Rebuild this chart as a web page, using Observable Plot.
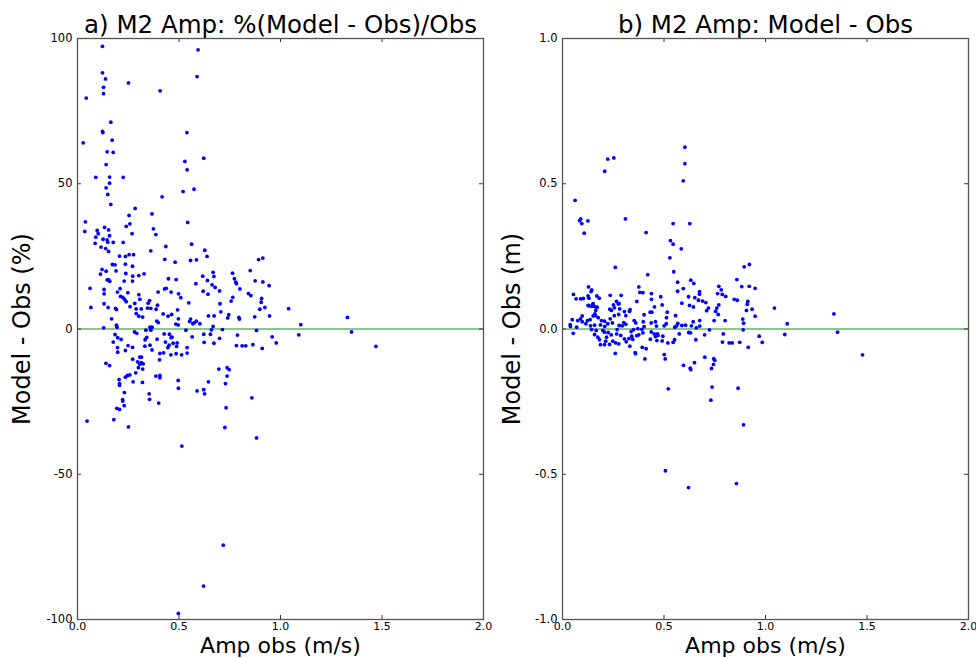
<!DOCTYPE html>
<html><head><meta charset="utf-8">
<script src="https://cdn.jsdelivr.net/npm/d3@7"></script>
<script src="https://cdn.jsdelivr.net/npm/@observablehq/plot@0.6"></script>
<style>
body{margin:0;background:#fff;}
#wrap{position:relative;width:976px;height:658px;}
#wrap svg{position:absolute;top:0;overflow:visible;}
</style></head><body><div id="wrap"></div>
<script>
// Panel a: amplitude obs (m/s) vs %(Model - Obs)/Obs
const ampObsA = [0.123,0.594,0.123,0.138,0.251,0.589,0.128,0.128,0.407,0.043,0.164,0.123,0.125,0.539,0.171,0.028,0.146,0.176,0.622,0.529,0.141,0.540,0.090,0.158,0.225,0.158,0.141,0.520,0.574,0.149,0.417,0.164,0.284,0.254,0.367,0.039,0.543,0.258,0.240,0.133,0.374,
0.036,0.097,0.102,0.153,0.269,0.386,0.090,0.158,0.126,0.146,0.149,0.176,0.225,0.087,0.116,0.139,0.153,0.361,0.435,0.562,0.627,0.207,0.236,0.254,0.276,0.638,0.430,0.481,0.557,0.586,0.892,0.913,0.172,0.185,0.236,0.271,0.121,0.141,0.113,0.190,0.238,0.272,0.302,0.328,0.668,0.764,0.851,0.154,0.159,0.146,0.230,0.271,0.448,0.486,0.617,0.672,0.773,0.780,0.783,0.640,0.875,0.913,0.663,0.583,0.678,0.800,0.944,0.062,0.131,0.210,0.429,0.437,0.197,0.397,0.498,0.248,0.619,0.700,0.131,0.643,0.461,0.212,0.223,0.232,0.302,0.509,0.765,0.842,0.854,0.907,0.131,0.240,0.282,0.307,0.355,0.348,0.259,0.314,0.289,0.345,0.361,0.387,0.394,0.548,0.702,0.757,0.905,0.898,0.923,0.066,0.151,0.187,0.192,0.289,0.302,0.321,0.422,0.446,0.464,0.493,0.706,0.745,0.740,0.795,0.798,0.645,0.673,0.873,0.946,1.04,1.10,1.09,1.33,1.35,1.47,
0.168,0.497,0.391,0.398,0.557,0.552,0.576,0.586,0.603,0.568,0.484,0.496,0.192,0.195,0.129,0.357,0.367,0.361,0.337,0.534,0.668,0.660,0.714,0.882,0.281,0.292,0.185,0.198,0.215,0.341,0.333,0.392,0.427,0.453,0.461,0.466,0.622,0.655,0.565,0.700,0.788,0.959,0.979,0.176,0.197,0.249,0.271,0.332,0.357,0.433,0.451,0.471,0.488,0.445,0.491,0.540,0.624,0.672,0.783,0.811,0.829,0.864,0.910,0.198,0.236,0.367,0.406,0.424,0.460,0.486,0.513,0.540,0.272,0.307,0.315,0.296,0.314,0.324,0.307,0.404,0.140,0.158,0.300,0.321,0.287,0.696,0.737,0.747,0.246,0.258,0.236,0.386,0.406,0.406,0.205,0.274,0.320,0.496,0.645,0.737,0.729,0.207,0.207,0.497,0.589,0.622,0.626,0.231,0.353,0.859,0.222,0.223,0.355,0.400,0.230,0.194,0.207,0.732,0.179,0.047,0.251,0.726,0.882,0.514,0.718,0.621,0.497];
const pctDiff = [97.3,96.1,88.2,86.1,84.7,86.9,83.2,81.0,82.0,79.5,71.2,68.0,67.6,67.6,65.0,64.1,61.0,60.8,58.8,57.7,56.6,54.8,52.2,52.3,52.2,50.2,48.6,47.3,48.1,46.3,45.5,42.9,41.5,39.1,39.6,36.9,36.7,36.2,35.3,35.0,34.5,
33.6,33.9,32.8,34.1,32.8,32.5,31.6,32.1,30.9,30.7,29.9,29.8,29.8,29.5,28.2,27.7,26.7,26.9,28.4,29.2,27.1,25.1,25.0,25.6,25.6,25.0,24.0,23.0,23.6,23.8,23.9,24.4,22.2,22.1,22.3,21.6,20.5,19.9,18.9,20.0,19.1,18.2,18.4,19.0,19.5,19.2,20.1,16.9,16.4,16.9,16.5,16.5,17.3,17.0,18.2,18.1,17.3,16.1,15.6,16.7,16.6,16.2,15.2,15.6,14.3,13.8,14.9,14.0,13.6,13.9,13.8,14.0,12.7,12.7,12.1,12.5,13.0,13.1,12.1,12.0,12.7,11.2,10.9,10.2,11.8,10.8,10.9,12.2,11.5,10.5,8.7,9.4,8.8,10.2,9.8,8.9,7.7,6.9,6.9,7.2,7.1,6.8,8.2,9.0,8.7,9.6,9.2,6.8,7.4,7.4,7.4,7.1,6.7,5.3,4.4,4.1,5.2,4.4,5.0,6.6,5.9,4.9,3.8,4.0,3.4,4.5,4.5,4.2,4.5,7,1.5,-2,4,-1,-6,
3.5,3.5,2.7,2.2,3.4,2.6,2.2,2.7,1.8,1.8,1.7,1.4,1.3,0.6,0.4,0.6,0.6,-0.4,-0.4,-0.4,0.9,-0.3,-0.2,-0.5,-1.0,-1.5,-1.9,-3.0,-3.6,-2.9,-3.7,-3.5,-1.7,-1.8,-3.0,-2.8,-1.8,-1.8,-2.7,-3.2,-2.1,-2.7,-4.8,-4.5,-6.4,-5.7,-6.3,-5.9,-5.6,-4.5,-5.6,-4.9,-6.0,-6.4,-4.8,-6.4,-4.6,-4.9,-5.7,-5.8,-5.8,-5.4,-6.7,-8.0,-7.4,-7.2,-8.4,-8.2,-8.9,-8.5,-8.9,-8.3,-10.4,-9.7,-9.7,-11.3,-11.6,-12.0,-12.1,-10.6,-11.8,-12.6,-13.3,-13.8,-15.1,-13.8,-13.3,-14.0,-16.0,-15.8,-16.6,-16.2,-16.0,-16.8,-17.4,-18.2,-18.4,-17.7,-18.2,-16.2,-18.8,-18.8,-19.4,-20.4,-21.3,-20.9,-22.3,-21.9,-22.3,-23.7,-24.3,-24.8,-24.2,-25.5,-26.4,-27.3,-27.7,-27.1,-31.2,-31.7,-33.7,-33.9,-37.5,-40.3,-74.4,-88.5,-97.9];

// Panel b: amplitude obs (m/s) vs Model - Obs (m)
const ampObsB = [0.603,0.223,0.253,0.603,0.208,0.595,0.062,0.090,0.084,0.095,0.125,0.310,0.107,0.545,0.627,0.412,0.532,0.545,0.585,0.529,0.260,0.548,0.895,0.921,0.420,0.859,0.567,0.632,0.647,0.128,0.144,0.141,0.376,0.595,0.567,0.770,0.782,0.883,0.920,0.949,0.675,0.675,0.054,0.381,0.396,0.438,0.764,0.787,0.804,0.126,0.130,0.169,0.181,0.235,0.289,0.484,0.621,0.652,0.067,0.089,0.103,0.438,0.670,0.690,0.706,0.846,0.861,0.366,0.913,0.910,0.266,0.279,0.251,0.588,0.626,0.645,0.491,0.126,0.151,0.159,0.171,0.770,0.934,1.044,0.233,0.282,0.333,0.453,0.719,0.760,
1.107,1.095,0.984,1.337,1.355,1.478,0.521,0.737,0.865,0.731,0.892,0.507,0.621,0.857,0.596,0.629,0.632,0.650,0.701,0.745,0.750,0.744,0.734,0.406,0.501,0.506,0.260,0.358,0.360,0.412,0.393,0.788,0.821,0.836,0.873,0.915,0.969,0.792,0.890,0.892,0.888,0.906,0.949,0.801,0.747,0.767,0.754,0.710,0.676,0.676,0.659,0.644,0.635,0.631,0.622,0.657,0.700,0.724,0.588,0.606,0.562,0.553,0.568,0.557,0.575,0.552,0.519,0.545,0.516,0.512,0.501,0.511,0.463,0.458,0.437,0.468,0.458,0.465,0.491,0.494,0.470,0.437,0.452,0.433,0.402,0.432,0.440,0.398,0.402,0.391,0.396,0.330,0.353,0.361,0.350,0.371,0.376,0.366,0.338,0.341,0.346,0.327,0.332,0.305,0.312,0.277,0.302,0.312,0.294,0.279,0.269,0.287,0.305,0.314,0.277,0.262,0.248,0.240,0.267,
0.274,0.256,0.241,0.255,0.235,0.246,0.223,0.207,0.208,0.199,0.207,0.225,0.217,0.213,0.232,0.207,0.187,0.182,0.174,0.158,0.166,0.143,0.138,0.158,0.187,0.192,0.176,0.163,0.151,0.136,0.123,0.115,0.097,0.089,0.097,0.075,0.070,0.048,0.038,0.039,0.053,0.159,0.164,0.143,0.149,0.130];
const mDiff = [0.626,0.585,0.589,0.569,0.543,0.510,0.443,0.379,0.373,0.363,0.372,0.379,0.330,0.363,0.363,0.332,0.304,0.292,0.276,0.245,0.212,0.197,0.214,0.222,0.187,0.170,0.161,0.168,0.157,0.145,0.135,0.129,0.145,0.139,0.130,0.147,0.135,0.146,0.147,0.140,0.129,0.120,0.119,0.126,0.125,0.122,0.122,0.119,0.112,0.114,0.106,0.114,0.106,0.116,0.116,0.111,0.111,0.108,0.104,0.104,0.105,0.102,0.099,0.096,0.091,0.102,0.099,0.095,0.095,0.085,0.095,0.087,0.083,0.089,0.081,0.076,0.083,0.081,0.087,0.077,0.075,0.083,0.068,0.072,0.068,0.069,0.067,0.076,0.072,0.072,
0.018,-0.019,-0.046,0.052,-0.011,-0.089,-0.206,-0.200,-0.204,-0.245,-0.330,-0.488,-0.546,-0.532,-0.125,-0.135,-0.140,-0.116,-0.097,-0.102,-0.108,-0.122,-0.136,-0.103,-0.088,-0.103,-0.084,-0.081,-0.085,-0.068,-0.063,-0.045,-0.048,-0.048,-0.046,-0.063,-0.025,-0.017,-0.003,0.020,0.034,0.064,0.044,0.029,0.029,0.050,0.061,0.063,0.029,0.010,0.004,0.025,0.011,-0.013,-0.012,-0.037,-0.020,-0.003,0.012,0.013,0.011,0.006,0.019,0.046,-0.017,-0.037,-0.048,-0.046,0.058,0.039,0.011,0.018,0.010,0.025,0.021,-0.017,-0.026,-0.040,-0.041,-0.025,-0.022,-0.010,-0.017,-0.035,0.049,0.058,0.058,0.025,0.008,-0.001,-0.013,0.061,0.029,0.021,-0.002,0.001,-0.020,-0.023,-0.009,-0.025,-0.036,-0.033,-0.059,0.060,0.046,0.050,0.022,0.016,0.011,0.012,-0.002,-0.022,-0.034,-0.044,-0.051,-0.048,-0.042,-0.020,-0.017,
0.087,0.073,0.064,0.046,0.035,0.021,0.018,0.027,0.009,-0.005,-0.011,-0.012,-0.028,-0.042,-0.053,-0.054,-0.054,-0.037,-0.028,-0.019,-0.005,-0.002,0.011,0.013,0.014,0.029,0.039,0.046,0.045,0.032,0.029,0.018,0.025,0.035,0.045,0.029,0.006,0.032,0.015,0.009,-0.015,0.052,0.064,0.078,0.084,0.080];

const xTicks = [0, 0.5, 1.0, 1.5, 2.0];
const yTicksA = [-100, -50, 0, 50, 100];
const yTicksB = [-1.0, -0.5, 0.0, 0.5, 1.0];
const titleA = "a) M2 Amp: %(Model - Obs)/Obs";
const titleB = "b) M2 Amp: Model - Obs";
const xLabel = "Amp obs (m/s)";
const yLabelA = "Model - Obs (%)";
const yLabelB = "Model - Obs (m)";

function panel({xs, ys, yDomain, yTicks, yFmt, title, ylabel, marginLeft, marginRight, ylabelDx}) {
  const data = xs.map((x, i) => ({x, y: ys[i]}));
  const W = 488, H = 658, mt = 38, mb = 39;
  const fw = W - marginLeft - marginRight;
  const fh = H - mt - mb;
  const tl = 4;
  const tc = "#333";
  return Plot.plot({
    width: W, height: H, marginLeft, marginRight, marginTop: mt, marginBottom: mb,
    style: {fontFamily: "DejaVu Sans, sans-serif", background: "transparent", overflow: "visible"},
    x: {domain: [0, 2], axis: null},
    y: {domain: yDomain, axis: null},
    marks: [
      Plot.ruleY([0], {stroke: "#5fb85f", strokeWidth: 1.4}),
      Plot.dot(data, {x: "x", y: "y", r: 1.9, fill: "#0000ff"}),
      Plot.tickX(xTicks, {x: d => d, insetTop: fh - tl, stroke: tc}),
      Plot.tickX(xTicks, {x: d => d, insetBottom: fh - tl, stroke: tc}),
      Plot.tickY(yTicks, {y: d => d, insetRight: fw - tl, stroke: tc}),
      Plot.tickY(yTicks, {y: d => d, insetLeft: fw - tl, stroke: tc}),
      Plot.frame({stroke: "#555", strokeWidth: 1.3}),
      Plot.axisX(xTicks, {tickSize: 0, tickPadding: 3, tickFormat: d => d.toFixed(1), fontSize: 11, label: null}),
      Plot.axisY(yTicks, {tickSize: 0, tickPadding: 5, tickFormat: yFmt, fontSize: 11.5, label: null}),
      Plot.text([title], {text: d => d, frameAnchor: "top", lineAnchor: "middle", textAnchor: "middle", dy: -13, fontSize: 24.5, fill: "#000"}),
      Plot.text([xLabel], {text: d => d, frameAnchor: "bottom", lineAnchor: "middle", textAnchor: "middle", dy: 26.7, fontSize: 22, fill: "#000"}),
      Plot.text([ylabel], {text: d => d, frameAnchor: "left", lineAnchor: "middle", textAnchor: "middle", dx: ylabelDx, rotate: -90, fontSize: 24, fill: "#000"})
    ]
  });
}

const wrap = document.getElementById("wrap");
const a = panel({xs: ampObsA, ys: pctDiff, yDomain: [-100, 100], yTicks: yTicksA, yFmt: d => String(d),
  title: titleA, ylabel: yLabelA, marginLeft: 77, marginRight: 5, ylabelDx: -55});
a.style.left = "0px";
wrap.appendChild(a);
const b = panel({xs: ampObsB, ys: mDiff, yDomain: [-1, 1], yTicks: yTicksB, yFmt: d => d.toFixed(1),
  title: titleB, ylabel: yLabelB, marginLeft: 74, marginRight: 8, ylabelDx: -50});
b.style.left = "488px";
wrap.appendChild(b);
</script></body></html>
